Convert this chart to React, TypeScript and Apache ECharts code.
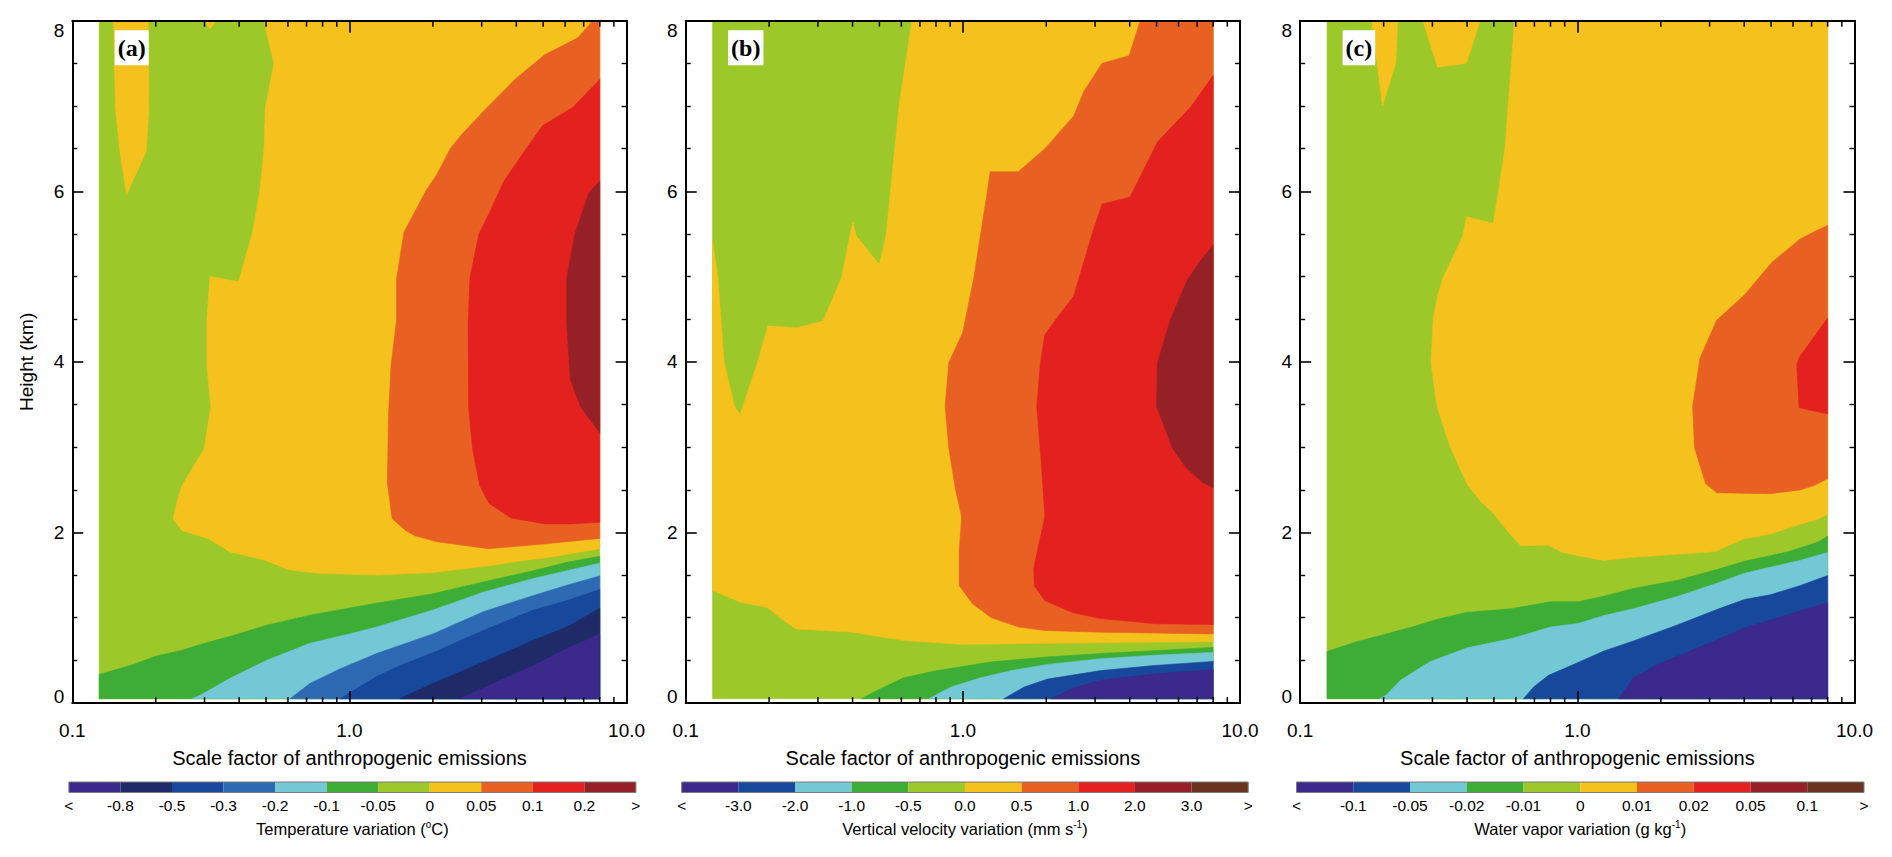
import { useEffect, useRef } from "react";
import * as echarts from "echarts";

type Pt = [number, number];

// ---------- axes ----------
const X_MIN = 0.1;
const X_MAX = 10;
const Y_MIN = 0;
const Y_MAX = 8;
const Y_INTERVAL = 2;
const MINOR_X = [0.2, 0.3, 0.4, 0.5, 0.6, 0.7, 0.8, 0.9, 2, 3, 4, 5, 6, 7, 8, 9];
const X_TITLE = "Scale factor of anthropogenic emissions";
const Y_TITLE = "Height (km)";
const PANEL_TAGS = ["(a)", "(b)", "(c)"];

// simulated domain (scale factor 0.125..8, height 0.05..8 km)
const DOMAIN: Pt[] = [[0.125, 0.05], [8, 0.05], [8, 8], [0.125, 8]];

// ---------- colour-bar classes ----------
const CB_A_LABELS = ["<", "-0.8", "-0.5", "-0.3", "-0.2", "-0.1", "-0.05", "0", "0.05", "0.1", "0.2", ">"];
const CB_B_LABELS = ["<", "-3.0", "-2.0", "-1.0", "-0.5", "0.0", "0.5", "1.0", "2.0", "3.0", ">"];
const CB_C_LABELS = ["<", "-0.1", "-0.05", "-0.02", "-0.01", "0", "0.01", "0.02", "0.05", "0.1", ">"];
const CB_A_TITLE = "Temperature variation ({sup|o}C)";
const CB_B_TITLE = "Vertical velocity variation (mm s{sup|-1})";
const CB_C_TITLE = "Water vapor variation (g kg{sup|-1})";

// ---------- panel (a): temperature contours ----------
const A_YELLOW_TONGUE: Pt[] = [[0.141, 8], [0.143, 6.98], [0.148, 6.5], [0.157, 5.96], [0.185, 6.47], [0.189, 6.98], [0.188, 8]];
const A_YELLOW_NOTCH: Pt[] = [[0.3, 8], [0.314, 7.9], [0.33, 8]];
const A_YELLOW: Pt[] = [[0.49, 8], [0.534, 7.5], [0.497, 6.98], [0.492, 6.5], [0.475, 6.01], [0.447, 5.52], [0.398, 4.94], [0.314, 5.0], [0.306, 4.5], [0.306, 3.96], [0.316, 3.47], [0.299, 2.98], [0.249, 2.55], [0.24, 2.39], [0.231, 2.16], [0.249, 2.02], [0.309, 1.93], [0.371, 1.77], [0.49, 1.68], [0.607, 1.56], [0.776, 1.52], [1.27, 1.5], [2.0, 1.53], [3.04, 1.6], [4.01, 1.66], [5.29, 1.71], [8, 1.81], [8, 8]];
const A_ORANGE: Pt[] = [[7.55, 8], [6.67, 7.8], [5.06, 7.6], [3.95, 7.31], [3.09, 6.96], [2.53, 6.66], [2.31, 6.5], [2.07, 6.2], [1.89, 6.01], [1.573, 5.52], [1.48, 4.98], [1.48, 4.5], [1.413, 3.96], [1.383, 3.36], [1.37, 2.58], [1.426, 2.16], [1.598, 2.02], [1.725, 1.96], [2.07, 1.89], [3.17, 1.81], [4.9, 1.86], [8, 1.93], [8, 8]];
const A_RED: Pt[] = [[8, 7.31], [6.37, 6.98], [4.98, 6.77], [4.34, 6.5], [3.61, 6.12], [3.19, 5.74], [2.93, 5.5], [2.72, 4.98], [2.68, 4.44], [2.69, 3.47], [2.78, 2.98], [2.95, 2.55], [3.19, 2.34], [3.83, 2.17], [5.06, 2.1], [6.27, 2.1], [8, 2.12]];
const A_DARKRED: Pt[] = [[8, 6.12], [7.31, 5.98], [6.51, 5.5], [6.08, 4.98], [6.08, 4.44], [6.27, 3.79], [6.83, 3.47], [8, 3.17]];
const A_GREEN: Pt[] = [[0.125, 0.335], [0.157, 0.427], [0.167, 0.454], [0.201, 0.551], [0.25, 0.62], [0.3, 0.7], [0.38, 0.79], [0.5, 0.91], [0.72, 1.03], [1.25, 1.17], [2.0, 1.28], [3.04, 1.42], [4.6, 1.55], [6.1, 1.65], [8, 1.72], [8, 0.05], [0.125, 0.05]];
const A_CYAN: Pt[] = [[0.27, 0.05], [0.289, 0.09], [0.381, 0.31], [0.503, 0.5], [0.72, 0.7], [1.0, 0.81], [1.253, 0.89], [2.0, 1.09], [3.04, 1.3], [4.61, 1.46], [6.08, 1.55], [8, 1.64], [8, 0.05]];
const A_MIDBLUE: Pt[] = [[0.61, 0.05], [0.72, 0.23], [0.924, 0.4], [1.253, 0.58], [2.0, 0.81], [3.04, 1.07], [4.61, 1.26], [6.08, 1.38], [8, 1.49], [8, 0.05]];
const A_BLUE: Pt[] = [[0.924, 0.05], [1.253, 0.31], [1.521, 0.44], [2.0, 0.59], [3.04, 0.85], [4.61, 1.09], [6.08, 1.2], [8, 1.33], [8, 0.05]];
const A_NAVY: Pt[] = [[1.52, 0.05], [2.0, 0.23], [3.04, 0.48], [4.61, 0.735], [6.08, 0.89], [8, 1.11], [8, 0.05]];
const A_PURPLE: Pt[] = [[2.5, 0.05], [3.49, 0.266], [4.61, 0.44], [6.08, 0.64], [8, 0.81], [8, 0.05]];

// ---------- panel (b): vertical velocity contours ----------
const B_YELLOW: Pt[] = [[0.125, 5.42], [0.1306, 4.99], [0.1376, 3.99], [0.15, 3.48], [0.157, 3.38], [0.1814, 3.99], [0.198, 4.42], [0.2527, 4.4], [0.313, 4.48], [0.3654, 4.99], [0.394, 5.53], [0.4006, 5.64], [0.413, 5.475], [0.4996, 5.14], [0.528, 5.475], [0.588, 6.99], [0.6546, 8], [8, 8], [8, 0.72], [2.02, 0.7], [0.99, 0.688], [0.617, 0.732], [0.3956, 0.832], [0.25, 0.868], [0.2187, 1.0], [0.197, 1.12], [0.158, 1.18], [0.125, 1.32]];
const B_ORANGE: Pt[] = [[4.365, 8], [3.98, 7.59], [3.18, 7.5], [2.73, 7.17], [2.51, 6.88], [1.977, 6.5], [1.585, 6.23], [1.255, 6.23], [1.228, 6.015], [1.096, 4.99], [1.0, 4.35], [0.89, 3.99], [0.863, 3.48], [0.89, 2.99], [0.94, 2.51], [0.99, 2.185], [0.97, 1.78], [0.97, 1.376], [1.086, 1.16], [1.267, 1.0], [1.594, 0.89], [1.977, 0.85], [3.15, 0.83], [4.91, 0.82], [8, 0.81], [8, 8]];
const B_RED: Pt[] = [[8, 7.36], [6.65, 6.99], [5.04, 6.58], [4.006, 5.93], [3.18, 5.85], [2.946, 5.53], [2.51, 4.77], [2.168, 4.5], [1.977, 4.32], [1.905, 3.99], [1.848, 3.48], [1.917, 2.83], [1.977, 2.185], [1.803, 1.59], [1.81, 1.376], [1.977, 1.2], [2.49, 1.06], [3.13, 0.99], [4.966, 0.93], [8, 0.92]];
const B_DARKRED: Pt[] = [[8, 5.37], [7.18, 5.18], [6.45, 4.96], [5.615, 4.5], [5.04, 3.99], [5.0, 3.48], [5.7, 2.99], [6.35, 2.77], [7.29, 2.59], [8, 2.525]];
const B_GREEN: Pt[] = [[0.43, 0.05], [0.5, 0.16], [0.608, 0.292], [0.782, 0.372], [1.256, 0.48], [2.02, 0.54], [3.15, 0.58], [8, 0.652], [8, 0.05]];
const B_CYAN: Pt[] = [[0.755, 0.05], [0.805, 0.1], [0.907, 0.188], [1.15, 0.292], [1.5, 0.38], [2.02, 0.452], [3.15, 0.52], [4.91, 0.56], [8, 0.592], [8, 0.05]];
const B_BLUE: Pt[] = [[1.406, 0.05], [1.665, 0.188], [2.02, 0.28], [3.15, 0.38], [4.91, 0.44], [8, 0.488], [8, 0.05]];
const B_PURPLE: Pt[] = [[2.08, 0.05], [2.52, 0.18], [3.15, 0.268], [4.91, 0.34], [8, 0.392], [8, 0.05]];

// ---------- panel (c): water vapour contours ----------
const C_YELLOW_T1: Pt[] = [[0.1814, 8], [0.198, 7.0], [0.2214, 7.5], [0.2249, 8]];
const C_YELLOW_T2: Pt[] = [[0.2771, 8], [0.313, 7.455], [0.398, 7.5], [0.446, 8]];
const C_YELLOW: Pt[] = [[0.5934, 8], [0.548, 6.5], [0.52, 6.015], [0.4966, 5.626], [0.398, 5.702], [0.386, 5.475], [0.328, 4.99], [0.313, 4.774], [0.302, 4.504], [0.2965, 3.992], [0.3114, 3.479], [0.3487, 2.994], [0.4006, 2.562], [0.453, 2.347], [0.4933, 2.239], [0.5754, 1.969], [0.6252, 1.845], [0.787, 1.85], [0.8763, 1.769], [1.006, 1.726], [1.247, 1.672], [1.594, 1.71], [3.133, 1.775], [4.006, 1.926], [4.966, 1.98], [6.35, 2.093], [7.4, 2.158], [8, 2.212], [8, 8]];
const C_ORANGE: Pt[] = [[8, 5.6], [7.18, 5.529], [6.35, 5.438], [5.04, 5.168], [4.006, 4.785], [3.183, 4.488], [2.772, 4.046], [2.606, 3.479], [2.647, 2.994], [2.902, 2.573], [3.183, 2.465], [4.966, 2.454], [6.35, 2.498], [7.18, 2.552], [8, 2.632]];
const C_RED: Pt[] = [[8, 4.515], [6.35, 4.062], [6.19, 3.965], [6.31, 3.463], [8, 3.388]];
const C_GREEN: Pt[] = [[0.125, 0.604], [0.1594, 0.717], [0.198, 0.798], [0.2527, 0.89], [0.313, 0.982], [0.4006, 1.063], [0.579, 1.106], [0.799, 1.187], [1.006, 1.187], [1.247, 1.251], [1.594, 1.343], [2.305, 1.44], [3.183, 1.564], [4.006, 1.661], [4.966, 1.726], [5.79, 1.775], [7.4, 1.888], [8, 1.958], [8, 0.05], [0.125, 0.05]];
const C_CYAN: Pt[] = [[0.193, 0.05], [0.204, 0.092], [0.2305, 0.27], [0.2946, 0.486], [0.4006, 0.647], [0.579, 0.755], [0.799, 0.89], [1.006, 0.933], [1.247, 1.025], [1.594, 1.106], [2.305, 1.251], [3.183, 1.403], [4.006, 1.521], [4.966, 1.591], [6.35, 1.672], [8, 1.764], [8, 0.05]];
const C_BLUE: Pt[] = [[0.639, 0.05], [0.696, 0.189], [0.787, 0.324], [1.006, 0.475], [1.247, 0.61], [1.594, 0.728], [2.305, 0.917], [3.183, 1.095], [4.006, 1.214], [4.966, 1.268], [6.35, 1.376], [8, 1.494], [8, 0.05]];
const C_PURPLE: Pt[] = [[1.41, 0.05], [1.594, 0.297], [1.977, 0.459], [2.527, 0.604], [3.183, 0.739], [4.006, 0.879], [4.966, 0.971], [6.35, 1.079], [8, 1.176], [8, 0.05]];

// contour class of each filled region (index into the panel's colour bar), drawn in order
const A_LAYERS: [number, Pt[]][] = [
  [6, DOMAIN], [7, A_YELLOW_TONGUE], [7, A_YELLOW_NOTCH], [7, A_YELLOW], [8, A_ORANGE], [9, A_RED], [10, A_DARKRED],
  [5, A_GREEN], [4, A_CYAN], [3, A_MIDBLUE], [2, A_BLUE], [1, A_NAVY], [0, A_PURPLE],
];
const B_LAYERS: [number, Pt[]][] = [
  [4, DOMAIN], [5, B_YELLOW], [6, B_ORANGE], [7, B_RED], [8, B_DARKRED],
  [3, B_GREEN], [2, B_CYAN], [1, B_BLUE], [0, B_PURPLE],
];
const C_LAYERS: [number, Pt[]][] = [
  [4, DOMAIN], [5, C_YELLOW_T1], [5, C_YELLOW_T2], [5, C_YELLOW], [6, C_ORANGE], [7, C_RED],
  [3, C_GREEN], [2, C_CYAN], [1, C_BLUE], [0, C_PURPLE],
];

// ---------- styles ----------
const PURPLE = "#3b298b";
const NAVY = "#1f2a68";
const BLUE = "#17489c";
const MIDBLUE = "#2d6ab3";
const CYAN = "#72c8d4";
const GREEN = "#3dad35";
const LGREEN = "#9cc829";
const YELLOW = "#f5c11d";
const ORANGE = "#e86123";
const RED = "#e32220";
const DARKRED = "#952126";
const BROWN = "#6a3320";
const PAL_A = [PURPLE, NAVY, BLUE, MIDBLUE, CYAN, GREEN, LGREEN, YELLOW, ORANGE, RED, DARKRED];
const PAL_BC = [PURPLE, BLUE, CYAN, GREEN, LGREEN, YELLOW, ORANGE, RED, DARKRED, BROWN];

const FONT = "'Liberation Sans', Arial, Helvetica, sans-serif";
const PANEL_LEFT = [72.3, 685.7, 1300.2];
const PANEL_TOP = 20.7;
const PANEL_W = 554.3;
const PANEL_H = 682.3;
const CB_LEFT = [68.9, 681.7, 1296.5];
const CB_W = [567, 566.5, 567.5];
const CB_TOP = 782;
const CB_H = 10.5;

const PANELS = [
  { layers: A_LAYERS, palette: PAL_A, labels: CB_A_LABELS, title: CB_A_TITLE },
  { layers: B_LAYERS, palette: PAL_BC, labels: CB_B_LABELS, title: CB_B_TITLE },
  { layers: C_LAYERS, palette: PAL_BC, labels: CB_C_LABELS, title: CB_C_TITLE },
];

function buildOption() {
  const grid: any[] = [];
  const xAxis: any[] = [];
  const yAxis: any[] = [];
  const series: any[] = [];
  const title: any[] = [];

  PANELS.forEach((_, i) => {
    grid.push({ left: PANEL_LEFT[i], top: PANEL_TOP, width: PANEL_W, height: PANEL_H });
  });
  PANELS.forEach((_, i) => {
    grid.push({ left: CB_LEFT[i], top: CB_TOP, width: CB_W[i], height: CB_H });
  });

  const axisLine = { show: true, onZero: false, lineStyle: { color: "#000", width: 2 } };
  const logBase = {
    type: "log", logBase: 10, min: X_MIN, max: X_MAX, z: 5,
    axisLine, splitLine: { show: false },
    axisTick: { show: true, inside: true, length: 12, lineStyle: { color: "#000", width: 1.6 } },
  };
  // bottom x axes
  PANELS.forEach((_, i) => {
    xAxis.push({
      ...logBase, gridIndex: i, position: "bottom",
      axisLabel: { formatter: (v: number) => v.toFixed(1), fontSize: 19, margin: 18, color: "#000", fontFamily: FONT },
      name: X_TITLE, nameLocation: "middle", nameGap: 45,
      nameTextStyle: { fontSize: 20, color: "#000", fontFamily: FONT },
    });
  });
  // top x axes
  PANELS.forEach((_, i) => {
    xAxis.push({ ...logBase, gridIndex: i, position: "top", axisLabel: { show: false } });
  });
  // colour-bar axes
  PANELS.forEach((p, i) => {
    xAxis.push({
      type: "value", gridIndex: 3 + i, min: 0, max: p.palette.length, interval: 1,
      axisLine: { show: false }, axisTick: { show: false }, splitLine: { show: false },
      axisLabel: {
        formatter: (v: number) => p.labels[Math.round(v)] ?? "",
        fontSize: 15.5, margin: 5, color: "#000", fontFamily: FONT, showMinLabel: true, showMaxLabel: true,
      },
      name: p.title, nameLocation: "middle", nameGap: 27,
      nameTextStyle: {
        fontSize: 16.5, color: "#000", fontFamily: FONT, lineHeight: 18,
        rich: { sup: { fontSize: 10, lineHeight: 10, verticalAlign: "top", color: "#000", fontFamily: FONT } },
      },
    });
  });

  const yBase = {
    type: "value", min: Y_MIN, max: Y_MAX, interval: Y_INTERVAL, z: 5,
    axisLine, splitLine: { show: false },
    axisTick: { show: true, inside: true, length: 11, lineStyle: { color: "#000", width: 1.6 } },
    minorTick: { show: true, splitNumber: 4, length: 5, lineStyle: { color: "#000", width: 1.4 } },
    minorSplitLine: { show: false },
  };
  const yLabelStyle = { fontSize: 19, color: "#000", fontFamily: FONT };
  PANELS.forEach((_, i) => {
    yAxis.push({
      ...yBase, gridIndex: i, position: "left",
      axisLabel: {
        ...yLabelStyle, margin: 8,
        // end labels are kept inside the frame, as in the original figure
        formatter: (v: number) => (v === Y_MAX ? `{hi|${v}}` : v === Y_MIN ? `{lo|${v}}` : `${v}`),
        rich: { hi: { ...yLabelStyle, padding: [19, 0, 0, 0] }, lo: { ...yLabelStyle, padding: [0, 0, 13, 0] } },
      },
      ...(i === 0
        ? { name: Y_TITLE, nameLocation: "middle", nameGap: 36, nameTextStyle: { fontSize: 19, color: "#000", fontFamily: FONT } }
        : {}),
    });
  });
  PANELS.forEach((_, i) => {
    yAxis.push({ ...yBase, gridIndex: i, position: "right", axisLabel: { show: false } });
  });
  PANELS.forEach((_, i) => {
    yAxis.push({ type: "value", gridIndex: 3 + i, min: 0, max: 1, show: false });
  });

  // contour fills
  PANELS.forEach((p, i) => {
    series.push({
      type: "custom", coordinateSystem: "cartesian2d", xAxisIndex: i, yAxisIndex: i,
      silent: true, clip: true, z: 2,
      data: p.layers.map((l) => l[1][0]),
      renderItem: (params: any, api: any) => {
        const [cls, pts] = p.layers[params.dataIndex];
        const color = p.palette[cls];
        return {
          type: "polygon",
          shape: { points: pts.map((pt) => api.coord(pt)) },
          style: { fill: color, stroke: color, lineWidth: 0.6 },
        };
      },
    });
  });

  // minor ticks of the logarithmic axes (bottom and top)
  PANELS.forEach((_, i) => {
    series.push({
      type: "custom", coordinateSystem: "cartesian2d", xAxisIndex: i, yAxisIndex: i,
      silent: true, clip: false, z: 6,
      data: MINOR_X.map((v) => [v, Y_MIN]),
      renderItem: (params: any, api: any) => {
        const v = MINOR_X[params.dataIndex];
        const b = api.coord([v, Y_MIN]);
        const t = api.coord([v, Y_MAX]);
        const st = { stroke: "#000", lineWidth: 1.5 };
        return {
          type: "group",
          children: [
            { type: "line", shape: { x1: b[0], y1: b[1], x2: b[0], y2: b[1] - 6 }, style: st },
            { type: "line", shape: { x1: t[0], y1: t[1], x2: t[0], y2: t[1] + 6 }, style: st },
          ],
        };
      },
    });
  });

  // colour bars
  PANELS.forEach((p, i) => {
    const n = p.palette.length;
    const items = p.palette.map((_, k) => [k, 0]);
    items.push([0, 0]);
    series.push({
      type: "custom", coordinateSystem: "cartesian2d", xAxisIndex: 6 + i, yAxisIndex: 6 + i,
      silent: true, clip: false, z: 3,
      data: items,
      renderItem: (params: any, api: any) => {
        const k = params.dataIndex;
        if (k < n) {
          const a = api.coord([k, 1]);
          const b = api.coord([k + 1, 0]);
          return { type: "rect", shape: { x: a[0], y: a[1], width: b[0] - a[0], height: b[1] - a[1] }, style: { fill: p.palette[k] } };
        }
        const a = api.coord([0, 1]);
        const b = api.coord([n, 0]);
        return { type: "rect", shape: { x: a[0], y: a[1], width: b[0] - a[0], height: b[1] - a[1] }, style: { fill: "none", stroke: "#7a7a7a", lineWidth: 1 } };
      },
    });
  });

  PANEL_TAGS.forEach((tag, i) => {
    title.push({
      text: tag, left: PANEL_LEFT[i] + 42.4, top: PANEL_TOP + 9.6,
      backgroundColor: "#fff", padding: [4, 3, 4, 3], z: 8,
      textStyle: { fontFamily: "'Liberation Serif', 'Times New Roman', serif", fontWeight: "bold", fontSize: 24, lineHeight: 27, color: "#000" },
    });
  });

  return { animation: false, backgroundColor: "#fff", title, grid, xAxis, yAxis, series };
}

export default function App() {
  const ref = useRef<HTMLDivElement>(null);
  useEffect(() => {
    if (!ref.current) return;
    const chart = echarts.init(ref.current, null, { renderer: "svg" });
    chart.setOption(buildOption() as any);
    return () => chart.dispose();
  }, []);
  return <div ref={ref} style={{ position: "absolute", left: 0, top: 0, width: 1892, height: 857 }} />;
}
